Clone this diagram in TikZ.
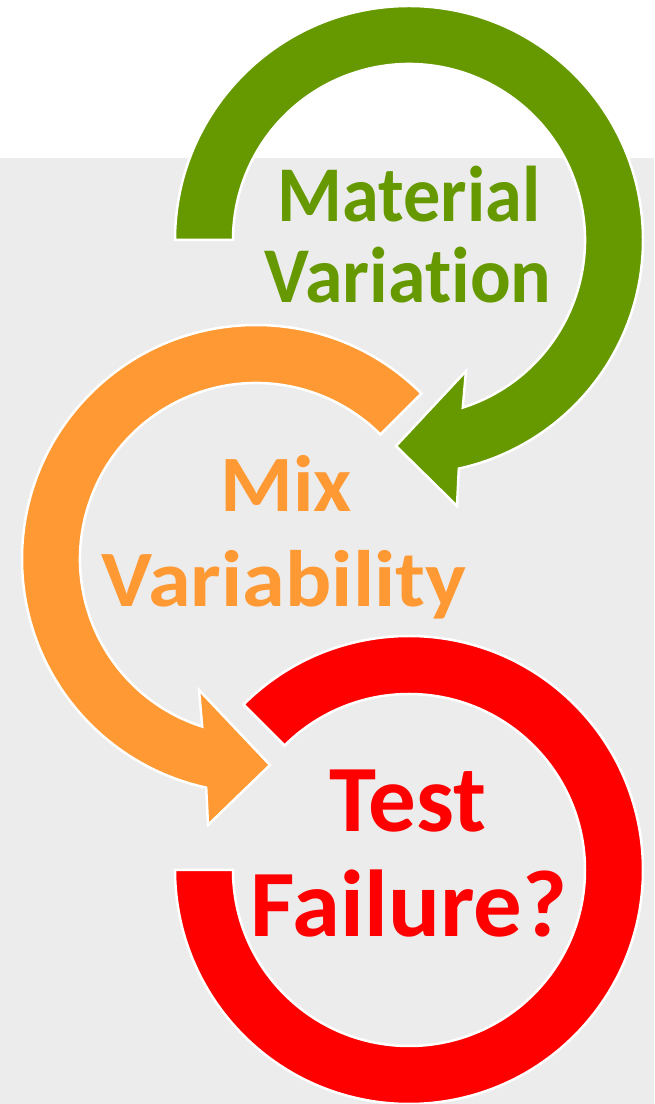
\documentclass[tikz,border=0pt]{standalone}
\usepackage{fontspec}
\setmainfont[Ligatures=NoCommon]{Carlito}
\usetikzlibrary{positioning}

\definecolor{leafgreen}{HTML}{669900}
\definecolor{mixorange}{HTML}{FF9933}
\definecolor{failred}{HTML}{FF0000}
\definecolor{panelgray}{HTML}{ECECEC}

\tikzset{%
    band/.style={draw=white, line width=2.5pt, line join=miter},
    word/.style={anchor=base, inner sep=0pt, font=\bfseries\fontsize{#1}{#1}\selectfont},
    word/.default=79
}

\begin{document}
\begin{tikzpicture}[x=1pt,y=1pt]
	% page and grey panel
	\useasboundingbox (0,0) rectangle (654,1104);
	\fill[white]     (0,0) rectangle (654,1104);
	\fill[panelgray] (0,0) rectangle (654,946);

	% green arrow, clockwise from the left
	\begin{scope}[shift={(409,864)}]
		\path[band,fill=leafgreen] (180:234) arc[start angle=180,end angle=-77.7,radius=234]
			-- (48,-266) -- (-13,-206) -- (57,-131)
			-- (-72.2:176) arc[start angle=-72.2,end angle=180,radius=176] -- cycle;
	\end{scope}

	% orange arrow, anticlockwise from the upper right
	\begin{scope}[shift={(256,545)}]
		\path[band,fill=mixorange] (45:234) arc[start angle=45,end angle=257.7,radius=234]
			-- (-48,-266) -- (14,-206) -- (-57,-131)
			-- (252.2:176) arc[start angle=252.2,end angle=45,radius=176] -- cycle;
	\end{scope}

	% red ring, no head
	\begin{scope}[shift={(409,234)}]
		\path[band,fill=failred] (135:234) arc[start angle=135,end angle=-180,radius=234]
			-- (-180:176) arc[start angle=-180,end angle=135,radius=176] -- cycle;
	\end{scope}

	% labels
	\node[word,text=leafgreen,xscale=0.94] (material)  at (409,882) {Material};
	\node[word,text=leafgreen,xscale=0.96] (variation) at (408,801) {Variation};
	\node[word=80,text=mixorange,xscale=1.04] (mix)    at (286,592) {Mix};
	\node[word=80,text=mixorange,xscale=1.08] (variab) at (284,497) {Variability};
	\node[word=95,text=failred] (test)      at (408,272) {Test};
	\node[word=95,text=failred,xscale=1.02] (failure)  at (409,167) {Failure?};
\end{tikzpicture}
\end{document}
